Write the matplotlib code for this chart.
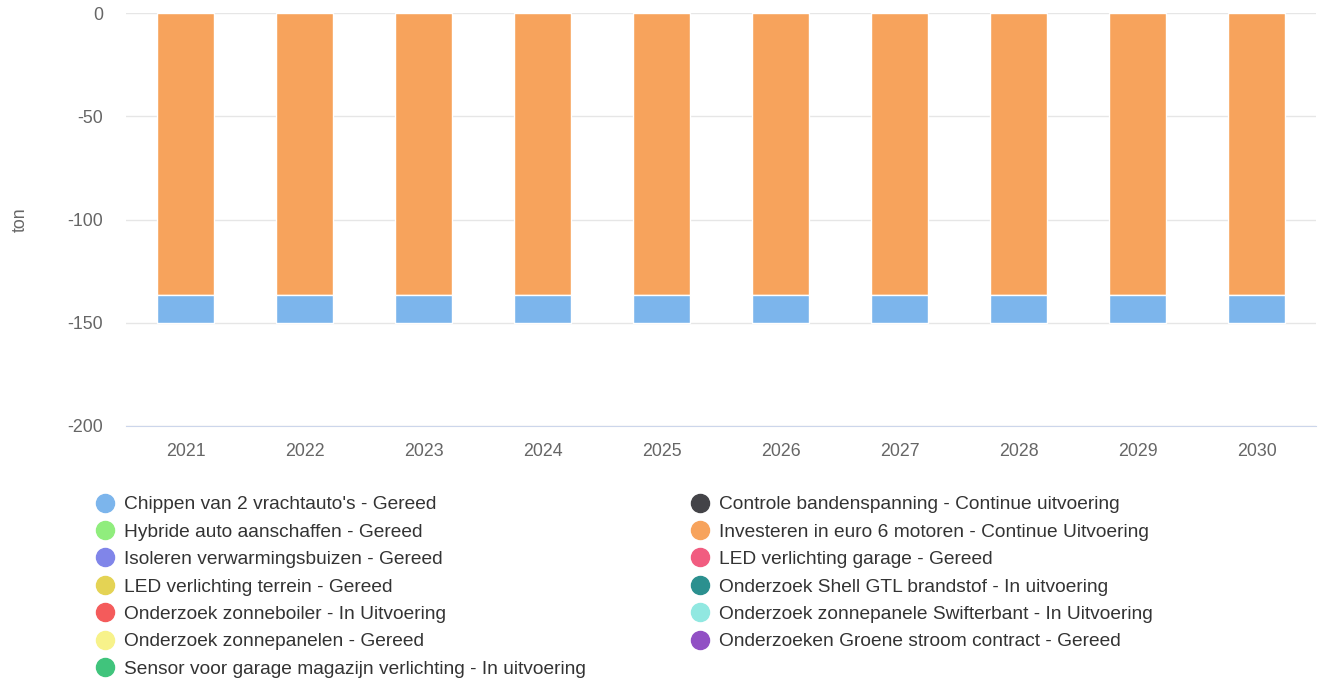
import matplotlib

matplotlib.use("Agg")
import matplotlib.pyplot as plt
from matplotlib.lines import Line2D
import numpy as np

plt.rcParams["font.family"] = ["Liberation Sans", "DejaVu Sans"]
plt.rcParams["axes.unicode_minus"] = False

years = ["2021", "2022", "2023", "2024", "2025", "2026", "2027", "2028", "2029", "2030"]

series_names = [
    "Chippen van 2 vrachtauto's - Gereed",
    "Controle bandenspanning - Continue uitvoering",
    "Hybride auto aanschaffen - Gereed",
    "Investeren in euro 6 motoren - Continue Uitvoering",
    "Isoleren verwarmingsbuizen - Gereed",
    "LED verlichting garage - Gereed",
    "LED verlichting terrein - Gereed",
    "Onderzoek Shell GTL brandstof - In uitvoering",
    "Onderzoek zonneboiler - In Uitvoering",
    "Onderzoek zonnepanele Swifterbant - In Uitvoering",
    "Onderzoek zonnepanelen - Gereed",
    "Onderzoeken Groene stroom contract - Gereed",
    "Sensor voor garage magazijn verlichting - In uitvoering",
]
series_colors = [
    "#7cb5ec", "#434348", "#90ed7d", "#f7a35c", "#8085e9", "#f15c80", "#e4d354",
    "#2b908f", "#f45b5b", "#91e8e1", "#f7f28a", "#9150c4", "#40c47c",
]

chippen = [-13.6] * 10
investeren = [-136.4] * 10
zeros = [0.0] * 10
series_values = [
    chippen, zeros, zeros, investeren, zeros, zeros, zeros,
    zeros, zeros, zeros, zeros, zeros, zeros,
]

fig = plt.figure(figsize=(13.18, 6.84), dpi=100)
ax = fig.add_axes([126 / 1318, 258 / 684, 1190 / 1318, 413 / 684])

x = np.arange(len(years))
width = 0.48

# zachte schaduw rechts van de kolommen
total = np.sum(np.array(series_values), axis=0)
ax.bar(x + 0.01, total, width, color="#d6d6d6", zorder=1.5, linewidth=0)

# Highcharts stapelt de laatste serie het dichtst bij de nul
bottom = np.zeros(len(years))
for name, color, vals in reversed(list(zip(series_names, series_colors, series_values))):
    vals = np.array(vals)
    if np.any(vals != 0):
        ax.bar(x, vals, width, bottom=bottom, color=color, edgecolor="white",
               linewidth=1, zorder=2)
    bottom += vals

ax.set_xlim(-0.5, len(years) - 0.5)
ax.set_ylim(-200, 0)
ax.set_yticks([0, -50, -100, -150, -200])
ax.set_xticks(x)
ax.set_xticklabels(years)
ax.grid(axis="y", color="#e6e6e6", linewidth=1, zorder=0)
ax.set_axisbelow(True)
for side in ["top", "right", "left"]:
    ax.spines[side].set_visible(False)
ax.spines["bottom"].set_color("#ccd6eb")
ax.spines["bottom"].set_zorder(0.5)
ax.tick_params(axis="both", length=0, labelsize=12.8, colors="#666666")
ax.tick_params(axis="y", pad=16.5)
ax.tick_params(axis="x", pad=12)
ax.set_ylabel("ton", fontsize=12.8, color="#666666")
ax.yaxis.set_label_coords(-97 / 1190, 0.5)

handles = [
    Line2D([], [], marker="o", linestyle="none", markersize=13,
           markerfacecolor=c, markeredgecolor=c)
    for c in series_colors
]
left_idx = list(range(0, 13, 2))
right_idx = list(range(1, 13, 2))
for idx, xpos in [(left_idx, 95 / 1318), (right_idx, 690 / 1318)]:
    leg = fig.legend(
        [handles[i] for i in idx], [series_names[i] for i in idx],
        loc="upper left", bbox_to_anchor=(xpos, 1 - 496 / 684),
        frameon=False, fontsize=13.8, labelspacing=0.52, handlelength=1.0,
        handletextpad=0.5, borderaxespad=0, borderpad=0,
    )
    for t in leg.get_texts():
        t.set_color("#333333")

fig.savefig("out.png", dpi=100)
